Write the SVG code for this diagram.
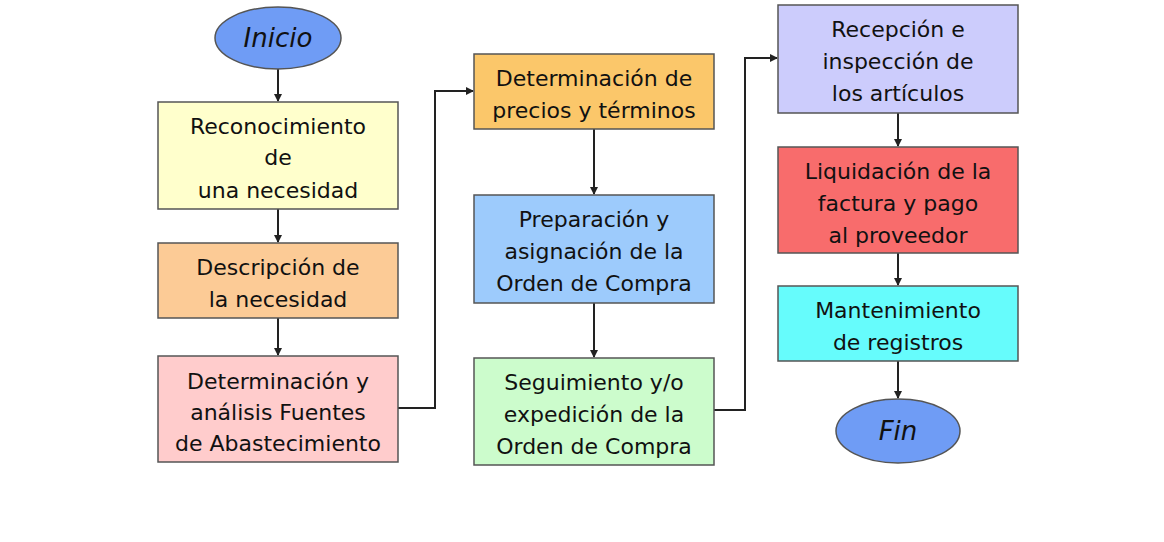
<svg xmlns="http://www.w3.org/2000/svg" width="1164" height="542" viewBox="0 0 1164 542">
<style>
.b{stroke:#555;stroke-width:1.5}
.t{font-family:"DejaVu Sans",Verdana,sans-serif;font-size:22px;fill:#111;text-anchor:middle}
.i{font-style:italic;font-size:26px}
.c{fill:none;stroke:#222;stroke-width:2}
</style>
<defs>
<marker id="a" markerWidth="8" markerHeight="8" refX="7" refY="4" orient="auto" markerUnits="userSpaceOnUse">
<path d="M0,0 L8,4 L0,8 Z" fill="#222"/>
</marker>
</defs>
<rect width="1164" height="542" fill="#fff"/>
<g id="connectors">
<path class="c" d="M278,69 V101" marker-end="url(#a)"/>
<path class="c" d="M278,209 V242" marker-end="url(#a)"/>
<path class="c" d="M278,318 V355" marker-end="url(#a)"/>
<path class="c" d="M398,408 H435 V91 H473" marker-end="url(#a)"/>
<path class="c" d="M594,129 V194" marker-end="url(#a)"/>
<path class="c" d="M594,303 V357" marker-end="url(#a)"/>
<path class="c" d="M714,410 H745 V58 H777" marker-end="url(#a)"/>
<path class="c" d="M898,113 V146" marker-end="url(#a)"/>
<path class="c" d="M898,253 V285" marker-end="url(#a)"/>
<path class="c" d="M898,361 V398" marker-end="url(#a)"/>
</g>
<g id="inicio"><ellipse class="b" cx="278" cy="38" rx="63" ry="31" fill="#6f9cf5"/><text class="t i" x="278" y="47">Inicio</text></g>
<g id="n1"><rect class="b" x="158" y="102" width="240" height="107" fill="#ffffcc"/><text class="t" x="278" y="134">Reconocimiento</text><text class="t" x="278" y="165">de</text><text class="t" x="278" y="198">una necesidad</text></g>
<g id="n2"><rect class="b" x="158" y="243" width="240" height="75" fill="#fccb96"/><text class="t" x="278" y="275">Descripción de</text><text class="t" x="278" y="307">la necesidad</text></g>
<g id="n3"><rect class="b" x="158" y="356" width="240" height="106" fill="#ffcccc"/><text class="t" x="278" y="389">Determinación y</text><text class="t" x="278" y="420">análisis Fuentes</text><text class="t" x="278" y="451">de Abastecimiento</text></g>
<g id="n4"><rect class="b" x="474" y="54" width="240" height="75" fill="#fbc76a"/><text class="t" x="594" y="86">Determinación de</text><text class="t" x="594" y="118">precios y términos</text></g>
<g id="n5"><rect class="b" x="474" y="195" width="240" height="108" fill="#9dcbfc"/><text class="t" x="594" y="227">Preparación y</text><text class="t" x="594" y="259">asignación de la</text><text class="t" x="594" y="291">Orden de Compra</text></g>
<g id="n6"><rect class="b" x="474" y="358" width="240" height="107" fill="#ccfccc"/><text class="t" x="594" y="390">Seguimiento y/o</text><text class="t" x="594" y="422">expedición de la</text><text class="t" x="594" y="454">Orden de Compra</text></g>
<g id="n7"><rect class="b" x="778" y="5" width="240" height="108" fill="#ccccfc"/><text class="t" x="898" y="37">Recepción e</text><text class="t" x="898" y="69">inspección de</text><text class="t" x="898" y="101">los artículos</text></g>
<g id="n8"><rect class="b" x="778" y="147" width="240" height="106" fill="#f86c6c"/><text class="t" x="898" y="179">Liquidación de la</text><text class="t" x="898" y="211">factura y pago</text><text class="t" x="898" y="243">al proveedor</text></g>
<g id="n9"><rect class="b" x="778" y="286" width="240" height="75" fill="#66fcfc"/><text class="t" x="898" y="318">Mantenimiento</text><text class="t" x="898" y="350">de registros</text></g>
<g id="fin"><ellipse class="b" cx="898" cy="431" rx="62" ry="32" fill="#6f9cf5"/><text class="t i" x="898" y="440">Fin</text></g>
</svg>
